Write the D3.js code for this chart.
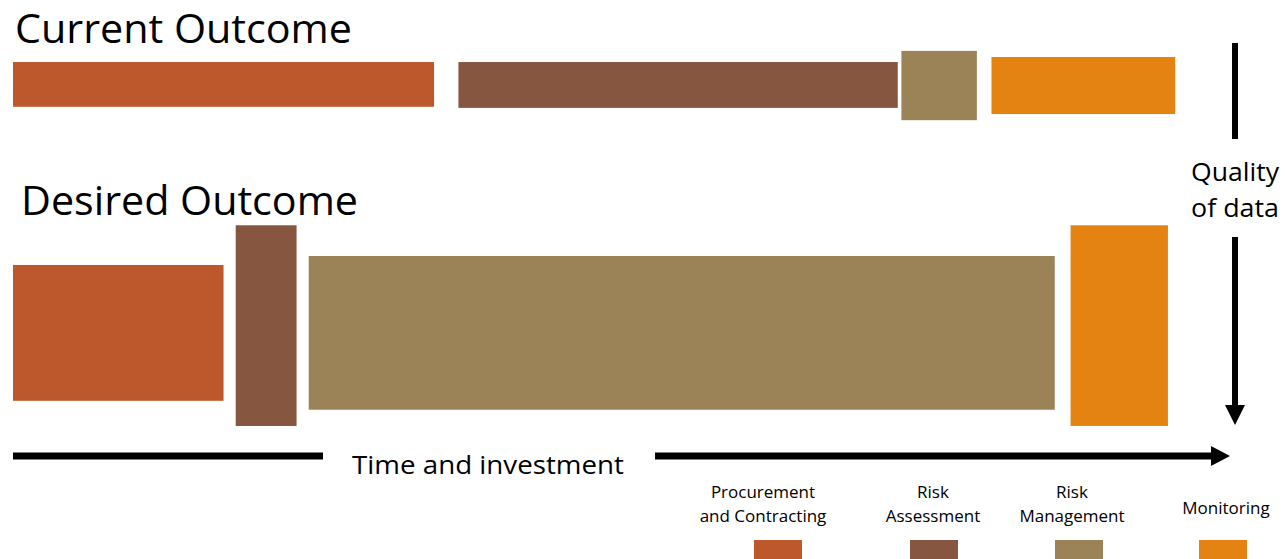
<!DOCTYPE html>
<html>
<head>
<meta charset="utf-8">
<script src="https://cdn.jsdelivr.net/npm/d3@7"></script>
<style>
  html, body { margin: 0; padding: 0; background: #fff; overflow: hidden; }
  svg { display: block; }
  text { font-family: "Open Sans", "Noto Sans", sans-serif; fill: #000; }
</style>
</head>
<body>
<svg id="chart" width="1285" height="559"></svg>
<script>
// ---- data ----
const stages = ["Procurement and Contracting", "Risk Assessment", "Risk Management", "Monitoring"];
const legendLines = [["Procurement", "and Contracting"], ["Risk", "Assessment"], ["Risk", "Management"], ["Monitoring"]];
const stageColors = ["#BD582C", "#865640", "#9B8357", "#E48312"];
const rows = ["Current Outcome", "Desired Outcome"];
// time/investment share (percent of timeline)
const currentStart = [0, 36.6, 73.0, 80.4];
const currentEnd = [34.6, 72.7, 79.2, 95.5];
const desiredStart = [0, 18.3, 24.3, 86.9];
const desiredEnd = [17.3, 23.3, 85.6, 94.9];
// vertical extent (percent of diagram height, top to bottom)
const currentTop = [11.1, 11.1, 9.1, 10.2];
const currentBottom = [19.1, 19.3, 21.5, 20.4];
const desiredTop = [47.4, 40.3, 45.8, 40.3];
const desiredBottom = [71.7, 76.2, 73.3, 76.2];
const xAxisLabel = "Time and investment";
const yAxisLabel = ["Quality", "of data"];

// ---- layout ----
const W = 1285, H = 559;
const svg = d3.select("#chart");
const x = d3.scaleLinear().domain([0, 100]).range([13, 1230]);
const y = d3.scaleLinear().domain([0, 100]).range([0, H]);
const color = d3.scaleOrdinal().domain(stages).range(stageColors);

function buildRow(start, end, top, bottom) {
  return stages.map((s, i) => ({ stage: s, x0: start[i], x1: end[i], y0: top[i], y1: bottom[i] }));
}
const rowData = [
  { name: rows[0], bars: buildRow(currentStart, currentEnd, currentTop, currentBottom), tx: 15, ty: 43 },
  { name: rows[1], bars: buildRow(desiredStart, desiredEnd, desiredTop, desiredBottom), tx: 21, ty: 215 }
];

rowData.forEach(r => {
  svg.append("text")
    .attr("x", r.tx).attr("y", r.ty)
    .attr("font-size", 41)
    .attr("textLength", 337).attr("lengthAdjust", "spacingAndGlyphs")
    .text(r.name);
  svg.append("g").selectAll("rect").data(r.bars).join("rect")
    .attr("x", d => x(d.x0))
    .attr("width", d => x(d.x1) - x(d.x0))
    .attr("y", d => y(d.y0))
    .attr("height", d => y(d.y1) - y(d.y0))
    .attr("fill", d => color(d.stage));
});

// ---- horizontal axis arrow ----
const axisY = 456;
const gx = svg.append("g");
gx.append("line").attr("x1", x(0)).attr("x2", 323).attr("y1", axisY).attr("y2", axisY)
  .attr("stroke", "#000").attr("stroke-width", 7);
gx.append("line").attr("x1", 655).attr("x2", x(100) - 18).attr("y1", axisY).attr("y2", axisY)
  .attr("stroke", "#000").attr("stroke-width", 7);
gx.append("path")
  .attr("d", `M${x(100) - 19},${axisY - 10} L${x(100)},${axisY} L${x(100) - 19},${axisY + 10} Z`)
  .attr("fill", "#000");
gx.append("text").attr("x", 352).attr("y", 474).attr("font-size", 26)
  .attr("textLength", 272).attr("lengthAdjust", "spacingAndGlyphs")
  .text(xAxisLabel);

// ---- vertical axis arrow ----
const axisX = 1235;
const gy = svg.append("g");
gy.append("line").attr("x1", axisX).attr("x2", axisX).attr("y1", 43).attr("y2", 139)
  .attr("stroke", "#000").attr("stroke-width", 6);
gy.append("line").attr("x1", axisX).attr("x2", axisX).attr("y1", 237).attr("y2", 406)
  .attr("stroke", "#000").attr("stroke-width", 6);
gy.append("path")
  .attr("d", `M${axisX - 10},405 L${axisX},425 L${axisX + 10},405 Z`)
  .attr("fill", "#000");
gy.selectAll("text").data(yAxisLabel).join("text")
  .attr("x", axisX).attr("y", (d, i) => 181 + i * 36)
  .attr("text-anchor", "middle").attr("font-size", 26)
  .attr("textLength", 88).attr("lengthAdjust", "spacingAndGlyphs")
  .text(d => d);

// ---- legend ----
const legendCenters = [778, 934, 1079, 1223];
const legendTextCenters = [763, 933, 1072, 1226];
const lg = svg.append("g");
stages.forEach((s, i) => {
  const lines = legendLines[i];
  const baseY = lines.length === 2 ? 498 : 514;
  lines.forEach((t, j) => {
    lg.append("text").attr("x", legendTextCenters[i]).attr("y", baseY + j * 24)
      .attr("text-anchor", "middle").attr("font-size", 17).text(t);
  });
  lg.append("rect").attr("x", legendCenters[i] - 24).attr("y", 540)
    .attr("width", 48).attr("height", 25).attr("fill", color(s));
});
</script>
</body>
</html>
